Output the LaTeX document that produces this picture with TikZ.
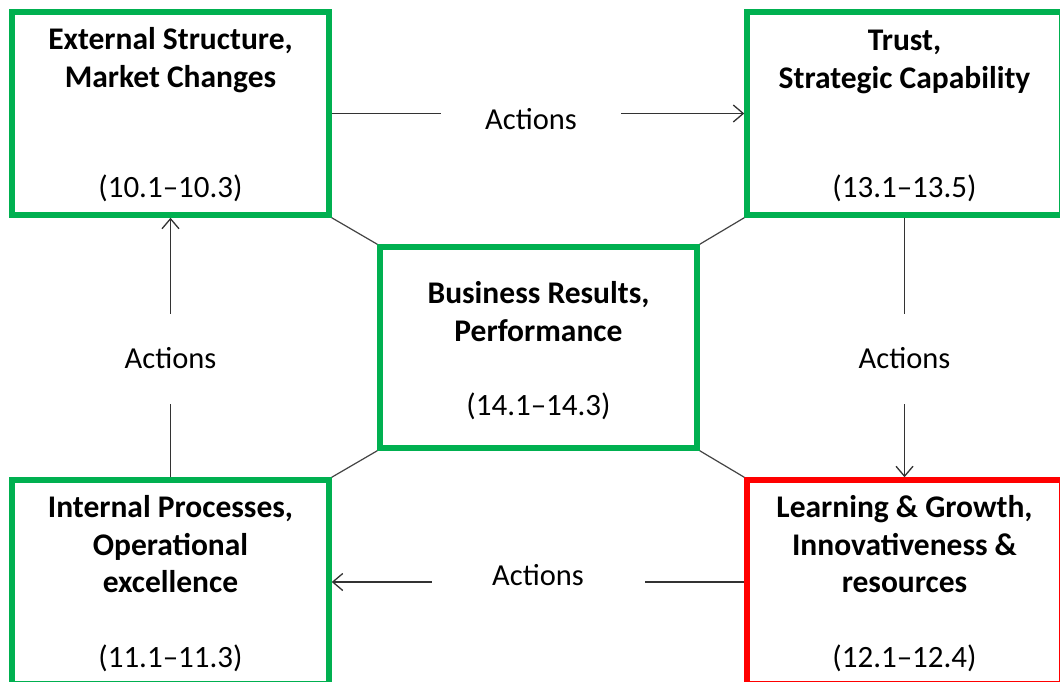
\documentclass[tikz,border=0pt]{standalone}
\usepackage{fontspec}
\setmainfont{Carlito}
\usetikzlibrary{arrows.meta}
\definecolor{boxgreen}{HTML}{00B050}
\definecolor{boxred}{HTML}{FF0000}
\definecolor{connc}{HTML}{333333}
\definecolor{diagc}{HTML}{444444}
\begin{document}
\begin{tikzpicture}[x=1pt,y=-1pt,
  box/.style={draw=boxgreen, line width=5.5pt, minimum width=317pt, minimum height=203pt, inner sep=0pt},
  title/.style={anchor=north, inner sep=0pt, align=center, font=\fontsize{31.5}{37.5}\selectfont\bfseries},
  nums/.style={anchor=south, inner sep=0pt, font=\fontsize{31}{36}\selectfont},
  conn/.style={draw=connc, line width=1.3pt},
  arr/.style={conn, -{Straight Barb[length=10pt,width=17pt]}},
  diag/.style={draw=diagc, line width=1.2pt},
  lbl/.style={fill=white, inner sep=0pt, font=\fontsize{30.5}{36}\selectfont}]
\useasboundingbox (0,0) rectangle (1060,682);
\clip (0,0) rectangle (1060,682);
\fill[white] (0,0) rectangle (1060,682);
% boxes
\node[box] (TL) at (170.5,113.5) {};
\node[box, minimum width=315pt] (TR) at (904.5,113.5) {};
\node[box, minimum height=201pt] (C) at (538.5,347.5) {};
\node[box, minimum height=204pt] (BL) at (170.5,582) {};
\node[box, draw=boxred, minimum width=315pt, minimum height=204pt] (BR) at (904.5,582) {};
% titles
\node[title] (TLt) at ([yshift=-18pt]TL.north) {External Structure,\\Market Changes};
\node[title] (TRt) at ([yshift=-21pt]TR.north) {Trust,\\Strategic Capability};
\node[title] (Ct) at ([yshift=-37pt]C.north) {Business Results,\\Performance};
\node[title] (BLt) at ([yshift=-18pt]BL.north) {Internal Processes,\\Operational\\excellence};
\node[title] (BRt) at ([yshift=-18pt]BR.north) {Learning \& Growth,\\Innovativeness \&\\resources};
% numbers
\node[nums] (TLn) at ([yshift=16pt]TL.south) {(10.1–10.3)};
\node[nums] (TRn) at ([yshift=16pt]TR.south) {(13.1–13.5)};
\node[nums] (Cn) at ([yshift=31pt]C.south) {(14.1–14.3)};
\node[nums] (BLn) at ([yshift=15pt]BL.south) {(11.1–11.3)};
\node[nums] (BRn) at ([yshift=15pt]BR.south) {(12.1–12.4)};
% diagonals
\draw[diag] (TL.south east) -- (C.north west);
\draw[diag] (TR.south west) -- (C.north east);
\draw[diag] (BL.north east) -- (C.south west);
\draw[diag] (BR.north west) -- (C.south east);
% action arrows
\draw[arr] (TL.east) -- node[lbl, minimum width=180pt, minimum height=30pt, yshift=-6pt, xshift=-7pt] (a1) {Actions} (TR.west);
\draw[arr] (TR.south) -- node[lbl, minimum width=100pt, minimum height=90pt, yshift=-11pt] (a2) {Actions} (BR.north);
\draw[arr] (BR.west) -- node[lbl, minimum width=213pt, minimum height=30pt, yshift=7pt] (a3) {Actions} (BL.east);
\draw[arr] (BL.north) -- node[lbl, minimum width=100pt, minimum height=90pt, yshift=-11pt] (a4) {Actions} (TL.south);
\end{tikzpicture}
\end{document}
